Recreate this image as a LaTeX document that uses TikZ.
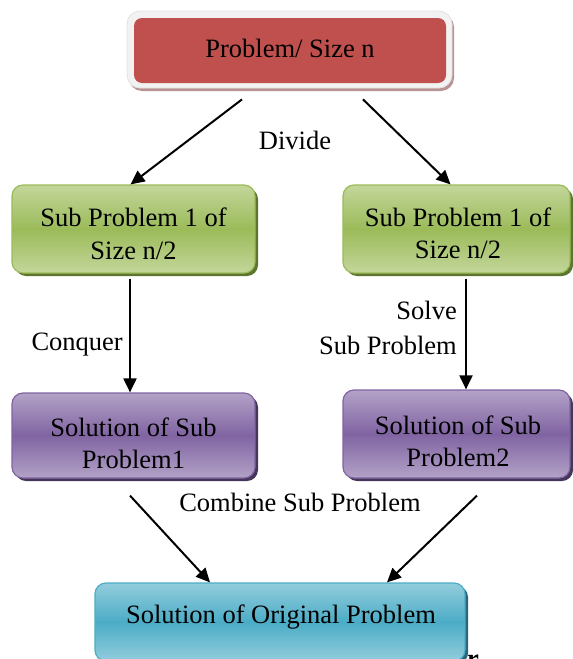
\documentclass[tikz,border=0pt]{standalone}
\usepackage{fontspec}
\setmainfont{Liberation Serif}
\usetikzlibrary{arrows.meta,shadows}
\definecolor{redM}{HTML}{C0504D}
\definecolor{frameF}{HTML}{F2F2F2}
\definecolor{frameD}{HTML}{E2E2E2}
\definecolor{frameS}{HTML}{B99393}
\definecolor{grnL}{HTML}{C3D69B}
\definecolor{grnM}{HTML}{9BBB59}
\definecolor{grnB}{HTML}{9BBB59}
\definecolor{grnS}{HTML}{5E7530}
\definecolor{purL}{HTML}{B3A2C7}
\definecolor{purM}{HTML}{8064A2}
\definecolor{purB}{HTML}{8064A2}
\definecolor{purS}{HTML}{46365A}
\definecolor{cyaL}{HTML}{93CDDD}
\definecolor{cyaM}{HTML}{4BACC6}
\definecolor{cyaB}{HTML}{4BACC6}
\definecolor{cyaS}{HTML}{2A6778}
\begin{document}
\begin{tikzpicture}[x=1pt,y=-1pt,
  txt/.style={font=\fontsize{26.5}{32.5}\selectfont, align=center, inner sep=0pt},
  basebox/.style={rounded corners=11pt, line width=1.2pt, inner sep=0pt},
  greenbox/.style={basebox, draw=grnB, top color=grnL, bottom color=grnL, middle color=grnM,
    drop shadow={shadow xshift=3pt, shadow yshift=-3pt, fill=grnS, opacity=1}},
  purplebox/.style={basebox, draw=purB, top color=purL, bottom color=purL, middle color=purM,
    drop shadow={shadow xshift=3pt, shadow yshift=-3pt, fill=purS, opacity=1}},
  cyanbox/.style={basebox, draw=cyaB, top color=cyaL, bottom color=cyaL, middle color=cyaM,
    drop shadow={shadow xshift=3pt, shadow yshift=-3pt, fill=cyaS, opacity=1}},
  arr/.style={line width=2pt, -{Triangle[length=14pt,width=13pt]}},
  lbl/.style={txt}
]
\useasboundingbox (0,0) rectangle (573,659);

% top box
\node[draw=frameD, fill=frameF, rounded corners=13pt, line width=0.8pt,
  minimum width=325pt, minimum height=77pt, inner sep=0pt,
  drop shadow={shadow xshift=2pt, shadow yshift=-3pt, fill=frameS, opacity=1}] (topout) at (289.5,49.5) {};
\node[fill=redM, rounded corners=8pt, minimum width=312pt, minimum height=65pt, inner sep=0pt] (top) at (290,50.5) {};
\node[txt] (toplabel) at (290,48) {Problem/ Size n};

% green boxes
\node[greenbox, minimum width=243pt, minimum height=88pt] (g1) at (133.5,229) {};
\node[txt] (g1label) at (133.5,234) {Sub Problem 1 of\\Size n/2};
\node[greenbox, minimum width=227pt, minimum height=88pt] (g2) at (456.5,229) {};
\node[txt] (g2label) at (458,233.5) {Sub Problem 1 of\\Size n/2};

% purple boxes
\node[purplebox, minimum width=243pt, minimum height=85pt] (p1) at (133.5,435.5) {};
\node[txt] (p1label) at (133.5,443.5) {Solution of Sub\\Problem1};
\node[purplebox, minimum width=227pt, minimum height=88pt] (p2) at (456.5,434) {};
\node[txt] (p2label) at (458,441.5) {Solution of Sub\\Problem2};

% bottom box
\node[cyanbox, minimum width=370pt, minimum height=78pt] (bot) at (280,622) {};
\node[txt] (botlabel) at (281,617.5) {Solution of Original Problem};

% labels
\node[lbl] (divide) at (295,140) {Divide};
\node[lbl, anchor=east] (conquer) at (123,345) {Conquer};
\node[lbl, anchor=east, align=right, font=\fontsize{26.5}{35}\selectfont] (solve) at (457,328) {Solve\\Sub Problem};
\node[lbl] (combine) at (300,502) {Combine Sub Problem};
\node[font=\fontsize{26.5}{32}\selectfont\bfseries, inner sep=0pt, anchor=base] (rfrag) at (473,667) {r};

% connectors
\draw[arr] ([xshift=-47.5pt,yshift=-11pt]topout.south) -- ([xshift=-3pt]g1.north);
\draw[arr] ([xshift=73.5pt,yshift=-11pt]topout.south) -- ([xshift=-6pt]g2.north);
\draw[arr] ([xshift=-3.5pt,yshift=-5pt]g1.south) -- ([xshift=-3.5pt]p1.north);
\draw[arr] ([xshift=9.5pt,yshift=-5pt]g2.south) -- ([xshift=9.5pt]p2.north);
\draw[arr] ([xshift=-3.5pt,yshift=-17pt]p1.south) -- ([xshift=-70pt]bot.north);
\draw[arr] ([xshift=20.5pt,yshift=-17pt]p2.south) -- ([xshift=107pt]bot.north);
\end{tikzpicture}
\end{document}
